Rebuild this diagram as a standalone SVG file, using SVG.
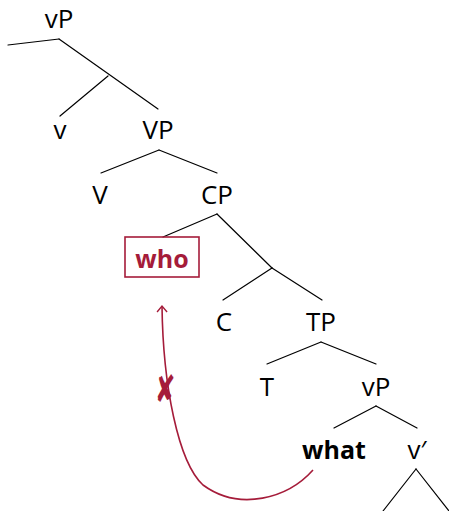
<svg xmlns="http://www.w3.org/2000/svg" width="449" height="511" viewBox="0 0 449 511">
<defs>
<style>
.lbl{font-family:"Open Sans","Liberation Sans",sans-serif;font-size:26px;fill:#000;text-anchor:middle}
.b{font-weight:bold;font-size:25px}
.red{fill:#a51c3a}
.edge{stroke:#000;stroke-width:1.2;fill:none;stroke-linecap:round}
.mv{stroke:#a51c3a;stroke-width:1.6;fill:none}
</style>
<marker id="ah" markerWidth="12" markerHeight="12" refX="8" refY="6" orient="auto" markerUnits="userSpaceOnUse" viewBox="0 0 12 12">
<path d="M2,1 L8,6 L2,11" fill="none" stroke="#a51c3a" stroke-width="1.4"/>
</marker>
</defs>
<rect width="449" height="511" fill="#fff"/>
<g id="connectors">
<path class="edge" d="M59,39 L8,45"/>
<path class="edge" d="M59,39 L158,109"/>
<path class="edge" d="M108,76 L60,116"/>
<path class="edge" d="M159,150 L101,173"/>
<path class="edge" d="M159,150 L217,173"/>
<path class="edge" d="M217,214 L163,237"/>
<path class="edge" d="M217,214 L272,268"/>
<path class="edge" d="M272,268 L223,300"/>
<path class="edge" d="M272,268 L322,300"/>
<path class="edge" d="M321,342 L267,364"/>
<path class="edge" d="M321,342 L376,364"/>
<path class="edge" d="M376,406 L334,428"/>
<path class="edge" d="M376,406 L417,428"/>
<path class="edge" d="M416,469 L383,511"/>
<path class="edge" d="M416,469 L449,511"/>
</g>
<g id="n-vP-top"><text class="lbl" x="59" y="28">vP</text></g>
<g id="n-v"><text class="lbl" x="60" y="139">v</text></g>
<g id="n-VP"><text class="lbl" x="158" y="139">VP</text></g>
<g id="n-V"><text class="lbl" x="100" y="204">V</text></g>
<g id="n-CP"><text class="lbl" x="217" y="204">CP</text></g>
<g id="n-who"><rect x="125" y="237" width="74" height="40" fill="none" stroke="#a51c3a" stroke-width="1.6"/><text class="lbl b red" x="162" y="268">who</text></g>
<g id="n-C"><text class="lbl" x="224" y="331">C</text></g>
<g id="n-TP"><text class="lbl" x="321" y="331">TP</text></g>
<g id="n-T"><text class="lbl" x="267" y="396">T</text></g>
<g id="n-vP"><text class="lbl" x="376" y="396">vP</text></g>
<g id="n-what"><text class="lbl b" x="334" y="459">what</text></g>
<g id="n-vbar"><text class="lbl" x="417" y="459">v′</text></g>
<g id="movement">
<path class="mv" d="M313,470 C288,498 240,512 203,485 C178,462 163,385 162,306" marker-end="url(#ah)"/>
<text transform="translate(165,402) scale(0.95,1.45)" x="0" y="0" font-family="DejaVu Sans,sans-serif" font-size="26" fill="#a51c3a" text-anchor="middle">✘</text>
</g>
</svg>
